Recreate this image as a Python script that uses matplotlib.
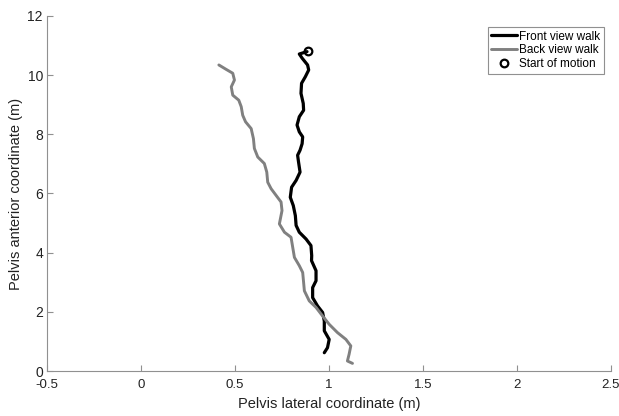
import matplotlib
matplotlib.use("Agg")
import matplotlib.pyplot as plt
import numpy as np

plt.rcParams["font.family"] = ["Liberation Sans", "DejaVu Sans"]

# Front view walk (starts at the top, marked with a circle)
front_x = [0.883, 0.842, 0.857, 0.886, 0.892, 0.874, 0.854, 0.851, 0.863, 0.865,
           0.842, 0.830, 0.842, 0.860, 0.857, 0.846, 0.833, 0.838, 0.846, 0.825,
           0.801, 0.794, 0.810, 0.821, 0.825, 0.842, 0.878, 0.904, 0.908, 0.907,
           0.931, 0.931, 0.913, 0.913, 0.939, 0.966, 0.975, 0.975, 1.001, 0.992,
           0.975]
front_y = [10.79, 10.71, 10.57, 10.34, 10.17, 9.94, 9.72, 9.38, 9.04, 8.81,
           8.59, 8.31, 8.08, 7.91, 7.68, 7.46, 7.29, 7.06, 6.72, 6.44,
           6.21, 5.87, 5.59, 5.25, 4.92, 4.69, 4.46, 4.24, 3.90, 3.73,
           3.39, 3.05, 2.82, 2.48, 2.20, 1.98, 1.69, 1.36, 1.07, 0.79,
           0.62]

# Back view walk
back_x = [0.414, 0.453, 0.488, 0.497, 0.480, 0.488, 0.520, 0.533, 0.541, 0.556,
          0.586, 0.598, 0.603, 0.621, 0.656, 0.669, 0.674, 0.692, 0.719, 0.745,
          0.750, 0.736, 0.763, 0.798, 0.807, 0.816, 0.842, 0.860, 0.865, 0.869,
          0.895, 0.931, 0.966, 1.001, 1.045, 1.090, 1.116, 1.107, 1.098, 1.125]
back_y = [10.34, 10.19, 10.06, 9.83, 9.60, 9.32, 9.15, 8.93, 8.64, 8.42,
          8.19, 7.85, 7.52, 7.23, 7.01, 6.72, 6.38, 6.16, 5.93, 5.71,
          5.42, 4.97, 4.69, 4.52, 4.18, 3.84, 3.56, 3.33, 2.99, 2.71,
          2.37, 2.15, 1.86, 1.58, 1.30, 1.07, 0.85, 0.57, 0.34, 0.26]

start_x = [0.888]
start_y = [10.80]

x_ticks = [-0.5, 0, 0.5, 1, 1.5, 2, 2.5]
x_labels = ["-0.5", "0", "0.5", "1", "1.5", "2", "2.5"]
y_ticks = [0, 2, 4, 6, 8, 10, 12]

fig = plt.figure(figsize=(6.19, 4.16), dpi=100)
ax = fig.add_axes([0.076, 0.108, 0.911, 0.854])

ax.plot(front_x, front_y, color="black", linewidth=2.3, label="Front view walk",
        solid_joinstyle="round", solid_capstyle="round")
ax.plot(back_x, back_y, color="#808080", linewidth=2.1, label="Back view walk",
        solid_joinstyle="round", solid_capstyle="round")
ax.plot(start_x, start_y, "o", markersize=5.5, markerfacecolor="none",
        markeredgecolor="black", markeredgewidth=1.6, linestyle="none",
        label="Start of motion")

ax.set_xlim(-0.5, 2.5)
ax.set_ylim(0, 12)
ax.set_xticks(x_ticks)
ax.set_xticklabels(x_labels)
ax.set_yticks(y_ticks)

for side in ("top", "right"):
    ax.spines[side].set_visible(False)
for side in ("left", "bottom"):
    ax.spines[side].set_color("#909090")
    ax.spines[side].set_linewidth(0.8)
ax.tick_params(direction="in", length=4, width=0.8, color="#909090",
               labelsize=10, labelcolor="#222222")
ax.tick_params(axis="x", pad=6, labelsize=9.5)
ax.tick_params(axis="y", pad=3)

ax.set_xlabel("Pelvis lateral coordinate (m)", fontsize=10.5, color="#222222", labelpad=4)
ax.set_ylabel("Pelvis anterior coordinate (m)", fontsize=10.5, color="#222222", labelpad=3)

leg = ax.legend(loc="upper right", bbox_to_anchor=(0.976, 0.935),
                bbox_transform=fig.transFigure, fontsize=8.5, fancybox=False,
                framealpha=1, edgecolor="#909090", handlelength=2.2,
                handletextpad=0.2, labelspacing=0.15, borderpad=0.3,
                borderaxespad=0)
leg.get_frame().set_linewidth(0.8)

fig.savefig("out.png", dpi=100)
